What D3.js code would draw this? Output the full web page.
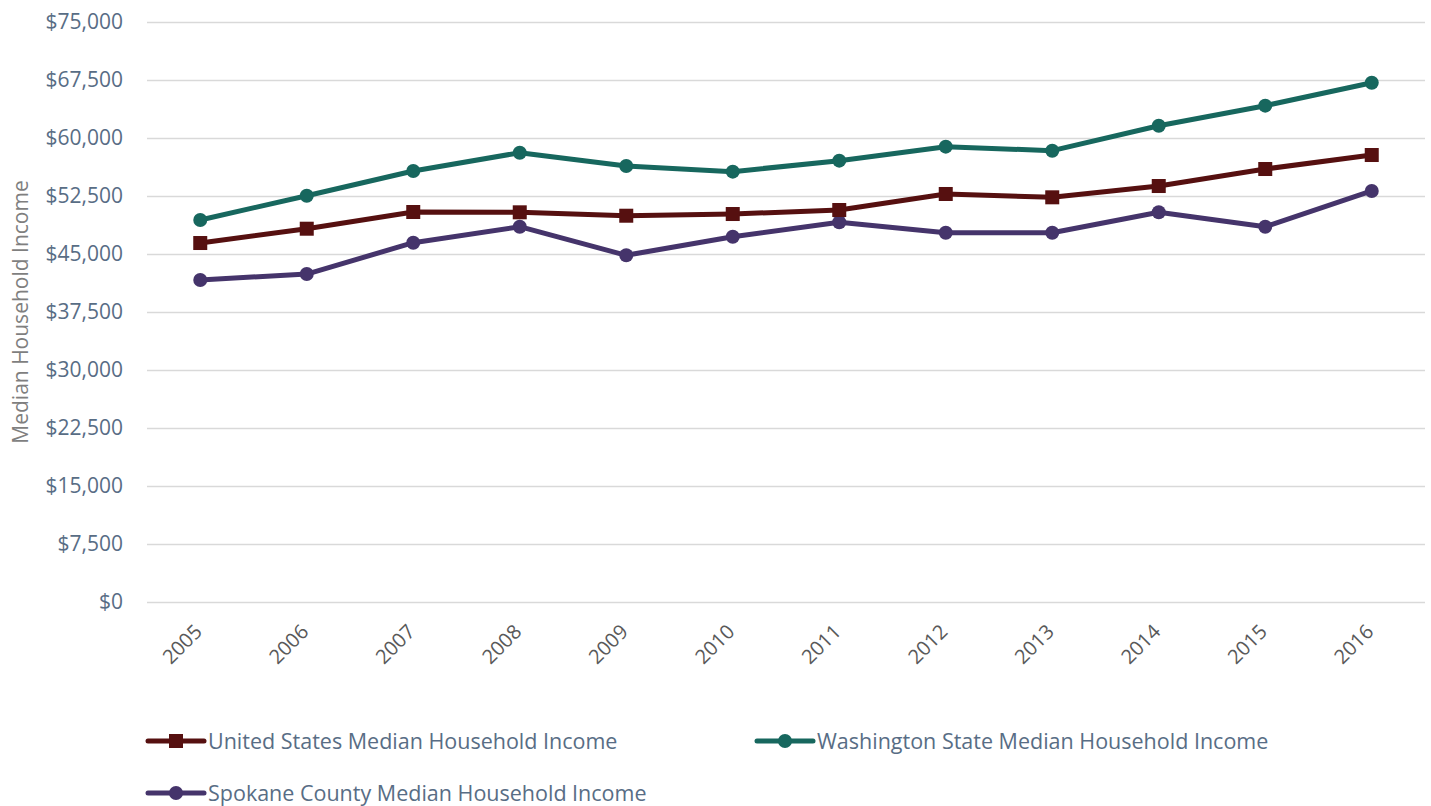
<!DOCTYPE html>
<html>
<head>
<meta charset="utf-8">
<script src="https://cdn.jsdelivr.net/npm/d3@7"></script>
<style>
  body { margin: 0; background: #fff; }
  svg { display: block; font-family: "Open Sans", sans-serif; }
</style>
</head>
<body>
<svg id="chart"></svg>
<script>
var W = 1431, H = 806;
var svg = d3.select("#chart").attr("width", W).attr("height", H);

// data
var years = ["2005", "2006", "2007", "2008", "2009", "2010", "2011", "2012", "2013", "2014", "2015", "2016"];
var usIncome = [46420, 48270, 50430, 50390, 49950, 50170, 50690, 52760, 52330, 53790, 55990, 57800];
var waIncome = [49400, 52540, 55730, 58100, 56380, 55650, 57070, 58880, 58360, 61590, 64180, 67150];
var spokaneIncome = [41640, 42410, 46460, 48530, 44830, 47240, 49100, 47750, 47750, 50390, 48530, 53150];
var yTicks = [0, 7500, 15000, 22500, 30000, 37500, 45000, 52500, 60000, 67500, 75000];

var series = [
    {name: "United States Median Household Income", values: usIncome, color: "#561010", shape: "square"},
    {name: "Washington State Median Household Income", values: waIncome, color: "#17675e", shape: "circle"},
    {name: "Spokane County Median Household Income", values: spokaneIncome, color: "#45346b", shape: "circle"}
];

// plot area (note: "top" is reserved on window, so use own names)
var plotLeft = 147, plotRight = 1425, plotTop = 22, plotBottom = 602;
var textColor = "#586d85";

var x = d3.scaleBand().domain(years).range([plotLeft, plotRight]);
var y = d3.scaleLinear().domain([0, 75000]).range([plotBottom, plotTop]);
var fmt = d3.format("$,");

// gridlines + y labels
var yAxis = svg.append("g")
    .attr("transform", "translate(" + plotLeft + ",0)")
    .call(d3.axisLeft(y).tickValues(yTicks).tickSize(-(plotRight - plotLeft)).tickFormat(fmt).tickPadding(24));
yAxis.select(".domain").remove();
yAxis.selectAll("line").attr("stroke", "#d9d9d9").attr("stroke-width", 1.5);
yAxis.selectAll("text").attr("fill", textColor).style("font-size", "21px").style("font-family", "Open Sans");

// x labels
var xAxis = svg.append("g")
    .attr("transform", "translate(0," + plotBottom + ")")
    .call(d3.axisBottom(x).tickSize(0).tickPadding(0));
xAxis.select(".domain").remove();
xAxis.selectAll("text")
    .attr("fill", "#595959")
    .style("font-size", "20px")
    .style("font-family", "Open Sans")
    .attr("text-anchor", "end")
    .attr("dy", null)
    .attr("y", 0)
    .attr("transform", "translate(3,31) rotate(-45)");

// y title
svg.append("text")
    .attr("transform", "translate(28," + ((plotTop + plotBottom) / 2) + ") rotate(-90)")
    .attr("text-anchor", "middle")
    .attr("fill", "#7f7f7f")
    .style("font-size", "21px")
    .text("Median Household Income");

var line = d3.line()
    .x(function (d, i) { return x(years[i]) + x.bandwidth() / 2; })
    .y(function (d) { return y(d); });

function drawMarker(g, s, cx, cy) {
    if (s.shape === "square") {
        g.append("rect").attr("x", cx - 7).attr("y", cy - 7).attr("width", 14).attr("height", 14).attr("fill", s.color);
    } else {
        g.append("circle").attr("cx", cx).attr("cy", cy).attr("r", 7).attr("fill", s.color);
    }
}

// draw Spokane first, then US, then WA on top
[2, 0, 1].forEach(function (k) {
    var s = series[k];
    var g = svg.append("g");
    g.append("path")
        .attr("d", line(s.values))
        .attr("fill", "none")
        .attr("stroke", s.color)
        .attr("stroke-width", 5)
        .attr("stroke-linejoin", "round");
    s.values.forEach(function (v, i) {
        drawMarker(g, s, x(years[i]) + x.bandwidth() / 2, y(v));
    });
});

// legend
var legendPos = [[148, 741], [757, 741], [148, 793]];
series.forEach(function (s, i) {
    var g = svg.append("g").attr("transform", "translate(" + legendPos[i][0] + "," + legendPos[i][1] + ")");
    g.append("line").attr("x1", 0).attr("x2", 56).attr("y1", 0).attr("y2", 0)
        .attr("stroke", s.color).attr("stroke-width", 5).attr("stroke-linecap", "round");
    drawMarker(g, s, 28, 0);
    g.append("text")
        .attr("x", 60)
        .attr("dy", "0.35em")
        .attr("fill", textColor)
        .style("font-size", "21.5px")
        .text(s.name);
});
</script>
</body>
</html>
